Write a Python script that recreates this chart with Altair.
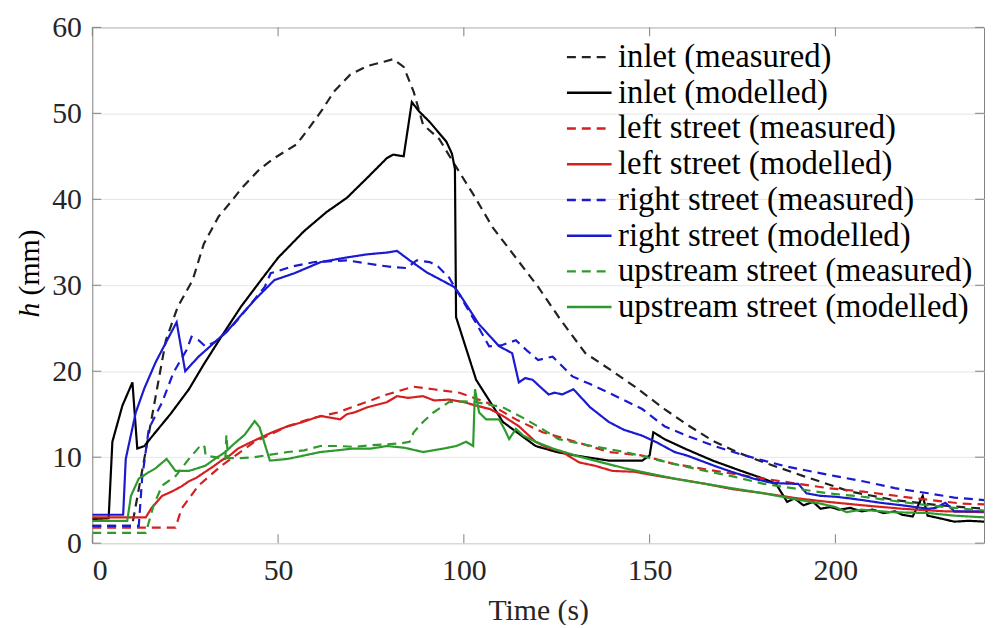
import altair as alt
import pandas as pd

names = ["inlet (measured)", "inlet (modelled)", "left street (measured)", "left street (modelled)",
         "right street (measured)", "right street (modelled)", "upstream street (measured)",
         "upstream street (modelled)"]
colors = ["#222222", "#000000", "#d42020", "#d42020", "#1a1ad0", "#1a1ad0", "#2e9a2e", "#2e9a2e"]
dashes = [[9, 6], [1, 0], [9, 6], [1, 0], [9, 6], [1, 0], [9, 6], [1, 0]]

inlet_meas_t = [0, 10, 10.7, 19.8, 23, 27, 30, 34, 37.5, 40, 45, 49, 55, 58.7, 62, 65, 69.4, 74, 78.5, 81, 83.8,
                86.5, 89, 93.4, 97, 102.5, 107.8, 114, 120, 126, 132.7, 140, 146, 154, 160, 167, 174, 180.7,
                191.4, 204, 216, 228, 240]
inlet_meas_h = [2, 2, 2, 23.6, 27.5, 30.6, 34.8, 38, 39.8, 41.2, 43.5, 44.8, 46.4, 48.5, 50.5, 52.5, 54.5, 55.5,
                56, 56.3, 55.4, 52.5, 48.7, 47, 44.4, 40.6, 36.7, 33.2, 29.8, 26, 22.1, 20, 18.2, 15.6, 13.8,
                11.9, 10.5, 9.4, 7.8, 6, 5, 4.4, 4.0]

inlet_mod_t = [0, 4.4, 5.4, 8.1, 10.8, 12.1, 14, 17, 21, 26, 30, 34.7, 40, 45.4, 50, 57, 63, 68.6, 74, 79.3, 81,
               83.8, 86, 88, 90.8, 95.3, 96.8, 97.6, 97.9, 103.3, 110.5, 119.3, 125, 130, 139, 148, 150, 151,
               154, 160, 167, 174, 180.7, 184, 187, 189, 191.4, 194, 196, 198.6, 201, 204, 207, 210, 213, 216,
               218, 220.8, 223.5, 224.8, 228, 232, 236, 240]
inlet_mod_h = [2.8, 2.9, 11.8, 16, 18.7, 11, 11.3, 12.9, 15, 17.9, 20.8, 24, 27.5, 30.6, 33.2, 36.3, 38.5, 40.2,
               42.5, 44.8, 45.2, 45, 51.3, 50.2, 49, 46.7, 45.3, 43.5, 26.3, 19, 14.1, 11.3, 10.6, 10.2, 9.6,
               9.6, 10.2, 12.9, 12.1, 10.9, 9.6, 8.5, 7.5, 6.9, 4.8, 5.2, 4.4, 4.8, 4.0, 4.2, 3.9, 4.1, 3.7, 3.9,
               3.5, 3.7, 3.3, 3.1, 5.5, 3.2, 2.9, 2.5, 2.6, 2.5]

left_meas_t = [0, 22.4, 24, 28.6, 34.7, 43.7, 52.6, 59, 66, 73, 79.3, 86.5, 91.8, 98.8, 106, 114, 121.2, 130,
               139, 148, 156.7, 165, 172, 180.7, 190, 198, 207.4, 220, 234, 240]
left_meas_h = [1.8, 1.8, 4, 6.7, 9, 11.8, 13.6, 14.5, 15.2, 16.3, 17.3, 18.2, 17.9, 17.5, 16.4, 14.4, 12.9, 11.8,
               10.6, 10.2, 9.2, 8.6, 8.1, 7.5, 6.9, 6.4, 6, 5.3, 4.6, 4.5]

left_mod_t = [0, 14.4, 15.8, 18.8, 21.4, 24, 26, 28, 30.4, 32.5, 34.7, 37, 39.2, 42, 46.4, 49, 52.6, 56, 61.4, 64,
              66.7, 68.5, 70.5, 74, 79.3, 82, 85, 89, 92, 96, 100, 103.3, 107, 110.5, 114.8, 119.3, 122, 126.5,
              131, 135.3, 140, 146, 151, 156.7, 165, 172, 180.7, 190, 198, 207.4, 218, 229.6, 240]
left_mod_h = [3, 3, 4, 5.5, 6, 6.6, 7.2, 7.6, 8.3, 8.9, 9.6, 10.2, 11, 11.6, 12.5, 13, 13.6, 14, 14.8, 14.6, 14.4,
              15, 15.2, 15.8, 16.4, 17.1, 16.9, 17.1, 16.6, 16.7, 16.4, 16, 15.6, 14.8, 13.6, 11.8, 11.2, 10.6,
              9.4, 9, 8.4, 8.3, 7.9, 7.5, 6.9, 6.3, 5.8, 5.2, 4.8, 4.4, 4.0, 3.7, 3.6]

right_meas_t = [0, 12.5, 13.4, 15.2, 18.8, 21.8, 25.4, 26.7, 28.6, 30.4, 33, 36, 39.2, 43, 46.4, 48, 54, 59.8,
                68.6, 77.4, 81, 84.6, 87.3, 90.8, 93, 96, 100, 103.3, 106.8, 110, 114, 117, 120, 123.9, 129.2,
                134, 139, 148, 154, 160, 167.4, 174, 180.7, 187, 194, 200, 207.4, 216, 225, 232, 240]
right_meas_h = [2, 2, 7.5, 13.3, 16.4, 19.8, 22.5, 24, 23.6, 22.9, 23.4, 24.5, 26, 28, 29.8, 31.4, 32.2, 32.7,
                32.9, 32.3, 32.1, 32, 32.9, 32.7, 32.2, 30.9, 28, 25.6, 22.9, 23, 23.6, 22.4, 21.3, 21.7, 19.4,
                18.5, 17.5, 15.6, 13.6, 12.5, 11.3, 10.4, 9.6, 8.9, 8.3, 7.8, 7.2, 6.4, 5.8, 5.3, 5.0]

right_mod_t = [0, 8.3, 9, 11.7, 14, 17, 20, 22.7, 25, 28.6, 32, 36.6, 40, 43.7, 49, 54.4, 61.5, 68, 74, 79.3,
               82, 85.4, 90, 97.4, 98.8, 104, 109.5, 113, 114.8, 116.5, 118.5, 120.5, 122.8, 124.5, 126.5, 129.5,
               134, 139, 143, 148, 152, 156.7, 160, 167.4, 172, 178, 183, 188.7, 190, 192.2, 196, 200, 204,
               207.4, 212, 218, 225, 227, 229.6, 232, 236, 240]
right_mod_h = [3.3, 3.3, 9.8, 15.2, 18, 21, 23.5, 25.7, 20, 21.7, 23, 24.8, 26.5, 28.3, 30.6, 31.4, 32.7, 33.2,
               33.6, 33.8, 34, 32.9, 31.5, 29.8, 29, 25.5, 22.9, 22.1, 18.7, 19.2, 19, 18.2, 17.3, 17.5, 17.3,
               17.9, 15.8, 14.1, 13.2, 12.5, 11.7, 10.6, 10.2, 9, 8.3, 7.5, 7.0, 6.9, 6.9, 5.8, 5.5, 5.4, 5.2,
               5.0, 4.7, 4.4, 4.0, 4.1, 4.7, 3.7, 3.7, 3.7]

up_meas_t = [0, 14.4, 16.5, 18.8, 22.4, 26, 29.4, 30.2, 30.5, 33, 35.8, 36.1, 36.5, 40, 43.7, 48, 52.6, 57, 61.4,
             66, 70.5, 75, 79.3, 83, 85.4, 86.5, 89, 91.8, 96, 100, 103.3, 107, 110.5, 116.7, 121, 125.5, 130,
             134.5, 143.4, 150, 156.7, 165, 172, 180.7, 190, 198, 207.4, 216, 225, 232, 240]
up_meas_h = [1.2, 1.2, 4.4, 6.7, 7.8, 9.8, 11.5, 11.2, 10.2, 10, 9.8, 12.6, 9.9, 9.9, 10, 10.3, 10.6, 10.8, 11.3,
             11.3, 11.2, 11.4, 11.5, 11.6, 11.8, 12.9, 14.1, 15.2, 16.4, 16.5, 16.4, 16.1, 15.8, 14.4, 13.3, 12.1,
             11.7, 11.3, 10.6, 9.9, 9.2, 8.4, 7.8, 6.9, 6.3, 5.8, 5.4, 4.9, 4.4, 4.1, 3.8]

up_mod_t = [0, 9.4, 10.4, 12.5, 15, 17, 20, 22.4, 26, 30.4, 33, 35.8, 38, 41, 43.7, 45, 47.8, 52.6, 57, 61.4, 66,
            70, 75, 79.3, 84, 89, 94.5, 98, 100.6, 102.5, 103, 104.1, 106, 109.5, 111, 112.2, 114, 116, 119.3,
            124, 130, 137, 143.4, 150, 156.7, 165, 172, 180.7, 188, 196, 200, 203, 207, 215, 225, 232, 240]
up_mod_h = [2.6, 2.6, 5.5, 7.5, 8.2, 8.7, 9.8, 8.4, 8.4, 9, 9.8, 10.6, 11.5, 12.6, 14.2, 13.5, 9.6, 9.8, 10.2,
            10.6, 10.8, 11, 11, 11.3, 11.1, 10.6, 11, 11.3, 11.8, 11.3, 17.9, 15.2, 14.4, 14.4, 13.2, 12.1, 13.3,
            12.5, 11.8, 11, 10.2, 9.4, 8.7, 8.1, 7.5, 6.9, 6.4, 5.8, 5.2, 4.6, 4.2, 3.6, 3.9, 3.6, 3.5, 3.2, 3.0]

x_ticks = [0, 50, 100, 150, 200]
y_ticks = [0, 10, 20, 30, 40, 50, 60]

series_data = [
    (inlet_meas_t, inlet_meas_h), (inlet_mod_t, inlet_mod_h),
    (left_meas_t, left_meas_h), (left_mod_t, left_mod_h),
    (right_meas_t, right_meas_h), (right_mod_t, right_mod_h),
    (up_meas_t, up_meas_h), (up_mod_t, up_mod_h),
]

rows = []
for name, (ts, hs) in zip(names, series_data):
    for i, (t, h) in enumerate(zip(ts, hs)):
        rows.append({"series": name, "t": t, "h": h, "idx": i})
df = pd.DataFrame(rows)

FONT = "Liberation Serif"
W, H = 899, 520

xscale = alt.Scale(domain=[0, 240], nice=False, zero=False)
yscale = alt.Scale(domain=[0, 60], nice=False, zero=False)
x_axis = alt.Axis(values=x_ticks, title="Time (s)", grid=False, ticks=False, domain=False,
                  labelPadding=13, titlePadding=10)
y_axis = alt.Axis(values=y_ticks, title=None, grid=True, ticks=False, domain=False, labelPadding=11)

lines = alt.Chart(df).mark_line(strokeWidth=2.2, clip=True).encode(
    x=alt.X("t:Q", scale=xscale, axis=x_axis),
    y=alt.Y("h:Q", scale=yscale, axis=y_axis),
    color=alt.Color("series:N", scale=alt.Scale(domain=names, range=colors),
                    legend=alt.Legend(title=None)),
    strokeDash=alt.StrokeDash("series:N", scale=alt.Scale(domain=names, range=dashes),
                              legend=alt.Legend(title=None)),
    order=alt.Order("idx:Q"),
    detail="series:N",
)

xt = pd.DataFrame({"t": x_ticks})
yt = pd.DataFrame({"h": y_ticks})
tick_color = "#7f7f7f"
xb = alt.Chart(xt).mark_rule(color=tick_color, strokeWidth=1).encode(
    x=alt.X("t:Q", scale=xscale, axis=x_axis), y=alt.value(H), y2=alt.value(H - 9))
xtop = alt.Chart(xt).mark_rule(color=tick_color, strokeWidth=1).encode(
    x=alt.X("t:Q", scale=xscale, axis=x_axis), y=alt.value(0), y2=alt.value(9))
yl = alt.Chart(yt).mark_rule(color=tick_color, strokeWidth=1).encode(
    y=alt.Y("h:Q", scale=yscale, axis=y_axis), x=alt.value(0), x2=alt.value(9))
yr = alt.Chart(yt).mark_rule(color=tick_color, strokeWidth=1).encode(
    y=alt.Y("h:Q", scale=yscale, axis=y_axis), x=alt.value(W), x2=alt.value(W - 9))

one = pd.DataFrame({"k": [0]})
ylab_h = alt.Chart(one).mark_text(font=FONT, fontSize=30, fontStyle="italic", angle=270,
                                  align="center", baseline="middle", color="#000").encode(
    x=alt.value(-63), y=alt.value(285), text=alt.value("h"))
ylab_mm = alt.Chart(one).mark_text(font=FONT, fontSize=30, angle=270,
                                   align="center", baseline="middle", color="#000").encode(
    x=alt.value(-63), y=alt.value(237), text=alt.value("(mm)"))

chart = alt.layer(lines, xb, xtop, yl, yr, ylab_h, ylab_mm).properties(
    width=W, height=H,
    autosize=alt.AutoSizeParams(type="none"),
    padding={"left": 85, "top": 17, "right": 3, "bottom": 80},
).configure_view(stroke="#7f7f7f", strokeWidth=1).configure_axis(
    labelFont=FONT, labelFontSize=30, labelColor="#262626",
    titleFont=FONT, titleFontSize=30, titleColor="#262626", titleFontWeight="normal",
    gridColor="#e6e6e6", gridWidth=1,
).configure_legend(
    orient="none", legendX=477, legendY=12, padding=0,
    labelFont=FONT, labelFontSize=33, labelColor="#000", labelLimit=600, labelOffset=5,
    symbolType="stroke", symbolSize=2025, symbolStrokeWidth=2.5, rowPadding=0, clipHeight=36,
)

chart.save("out.html", embed_options={"renderer": "svg", "actions": False})
